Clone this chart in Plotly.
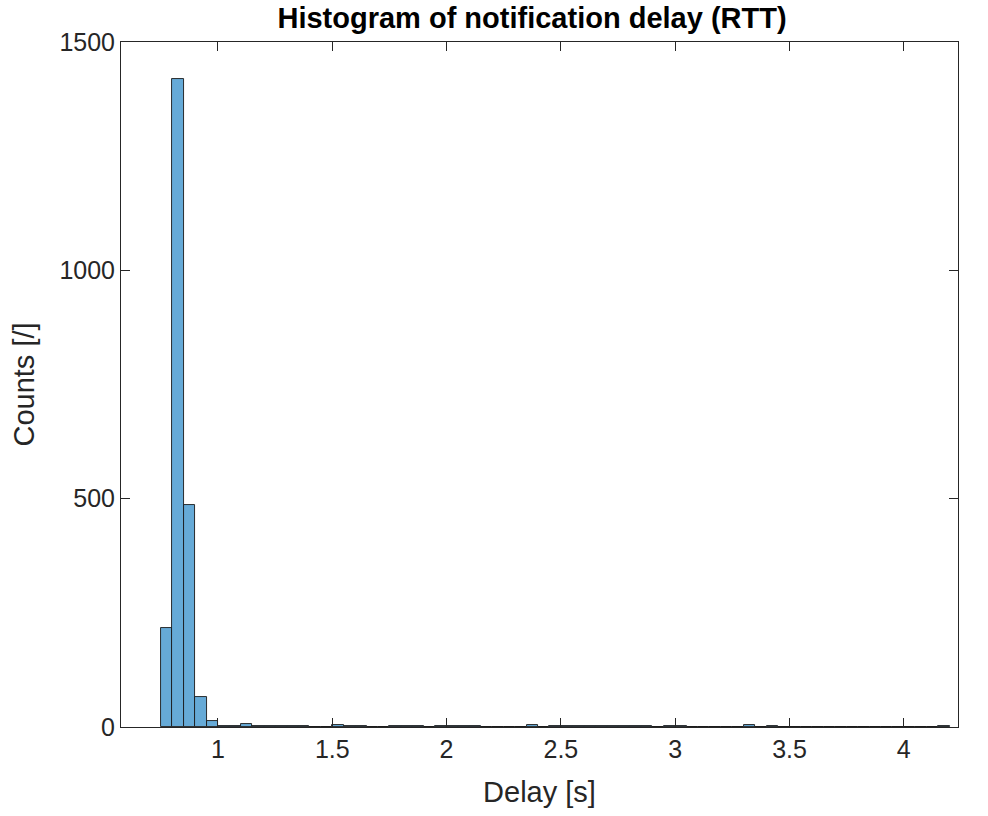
import plotly.graph_objects as go

# Histogram of round-trip notification delay, bins of 0.05 s starting at 0.75 s
bin_start = 0.75
bin_width = 0.05
counts = [
    217, 1418, 487, 65, 14, 3, 2, 6, 2, 2,
    3, 3, 3, 1, 1, 4, 2, 2, 1, 1,
    2, 3, 3, 1, 2, 3, 2, 3, 1, 1,
    0, 1, 4, 1, 3, 3, 2, 2, 2, 3,
    2, 2, 3, 1, 2, 2, 1, 1, 1, 1,
    0, 4, 1, 3, 1, 1, 0, 1, 1, 1,
    1, 1, 1, 1, 1, 0, 1, 1, 2,
]
x_ticks = [1, 1.5, 2, 2.5, 3, 3.5, 4]
y_ticks = [0, 500, 1000, 1500]

centers = [bin_start + bin_width * (i + 0.5) for i in range(len(counts))]

axis_color = "#262626"
font_family = "Liberation Sans, Arial, sans-serif"

fig = go.Figure(
    go.Bar(
        x=centers,
        y=counts,
        width=[bin_width] * len(counts),
        marker=dict(color="#66AAD7", line=dict(color="#1a1a1a", width=0.9)),
        hoverinfo="x+y",
    )
)

fig.update_layout(
    width=988,
    height=816,
    margin=dict(l=121, r=30, t=42, b=89),
    plot_bgcolor="white",
    paper_bgcolor="white",
    showlegend=False,
    bargap=0,
    font=dict(family=font_family, color=axis_color, size=25),
    title=dict(
        text="<b>Histogram of notification delay (RTT)</b>",
        x=0.5385,
        xanchor="center",
        y=0.978,
        yanchor="middle",
        font=dict(family=font_family, size=29, color="black"),
    ),
)

axis_common = dict(
    showline=True,
    linecolor=axis_color,
    linewidth=1,
    mirror="ticks",
    ticks="inside",
    ticklen=9,
    tickwidth=1,
    tickcolor=axis_color,
    showgrid=False,
    zeroline=False,
    tickfont=dict(family=font_family, size=25, color=axis_color),
)

fig.update_xaxes(
    range=[0.576, 4.237],
    tickvals=x_ticks,
    ticktext=[f"{v:g}" for v in x_ticks],
    title=dict(text="Delay [s]", font=dict(family=font_family, size=29, color=axis_color), standoff=19),
    **axis_common,
)
fig.update_yaxes(
    range=[0, 1500],
    tickvals=y_ticks,
    ticktext=[str(v) for v in y_ticks],
    title=dict(text="Counts [/]", font=dict(family=font_family, size=29, color=axis_color), standoff=16),
    **axis_common,
)

fig.write_html("out.html")
